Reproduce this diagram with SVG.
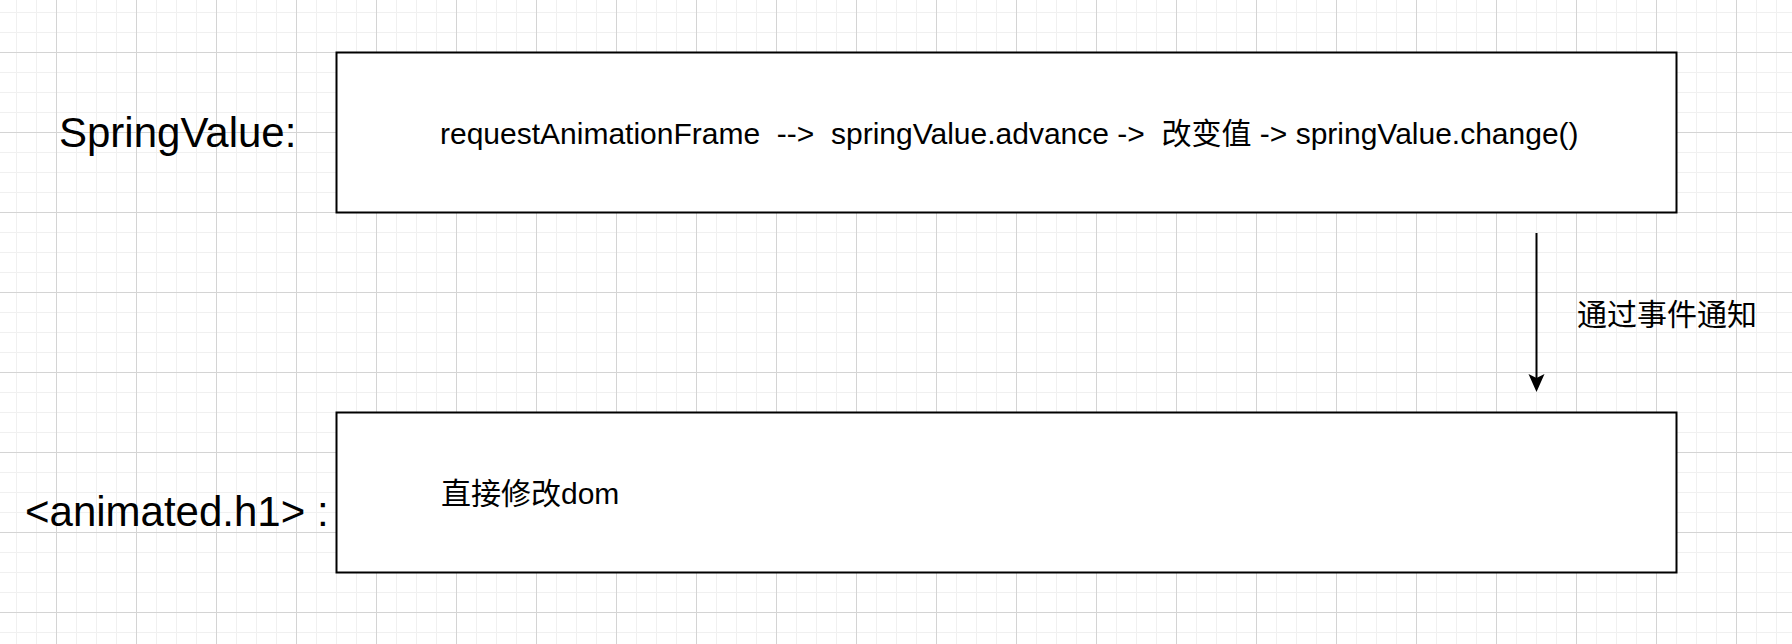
<svg xmlns="http://www.w3.org/2000/svg" width="1792" height="644" viewBox="0 0 1792 644">
  <defs>
    <pattern id="gridMinor" width="20" height="20" x="16" y="12" patternUnits="userSpaceOnUse">
      <path d="M0.5 0V20M0 0.5H20" fill="none" stroke="#f0f0f0" stroke-width="1"/>
    </pattern>
    <pattern id="gridMajor" width="80" height="80" x="56" y="52" patternUnits="userSpaceOnUse">
      <path d="M0.5 0V80M0 0.5H80" fill="none" stroke="#d4d4d4" stroke-width="1"/>
    </pattern>
    <style>
      .label { font-family: "Liberation Sans", Arial, "Noto Sans CJK SC", sans-serif; fill: #000; }
      .side { font-size: 42px; }
      .body { font-size: 30px; white-space: pre; }
      .box { fill: #fff; stroke: #000; stroke-width: 2; }
      .edge { fill: none; stroke: #000; stroke-width: 2; }
      .head { fill: #000; stroke: none; }
    </style>
  </defs>

  <!-- canvas grid -->
  <rect width="1792" height="644" fill="#fff"/>
  <rect width="1792" height="644" fill="url(#gridMinor)"/>
  <rect width="1792" height="644" fill="url(#gridMajor)"/>

  <!-- side captions -->
  <g id="label-springvalue">
    <text class="label side" x="59" y="147">SpringValue:</text>
  </g>
  <g id="label-animated">
    <text class="label side" x="25" y="526">&lt;animated.h1&gt; :</text>
  </g>

  <!-- spring value update loop -->
  <g id="node-springvalue">
    <rect class="box" x="336.5" y="52.5" width="1340" height="160"/>
    <text class="label body" x="440" y="144" xml:space="preserve">requestAnimationFrame  -->  springValue.advance ->  改变值 -> springValue.change()</text>
  </g>

  <!-- animated element -->
  <g id="node-animated">
    <rect class="box" x="336.5" y="412.5" width="1340" height="160"/>
    <text class="label body" x="441" y="504">直接修改dom</text>
  </g>

  <!-- connectors -->
  <g id="connectors">
    <line class="edge" x1="1536.5" y1="233" x2="1536.5" y2="378"/>
    <path class="head" d="M1536.5 392L1528.5 374L1536.5 378L1544.5 374Z"/>
    <text class="label body" x="1577" y="324.5">通过事件通知</text>
  </g>
</svg>
